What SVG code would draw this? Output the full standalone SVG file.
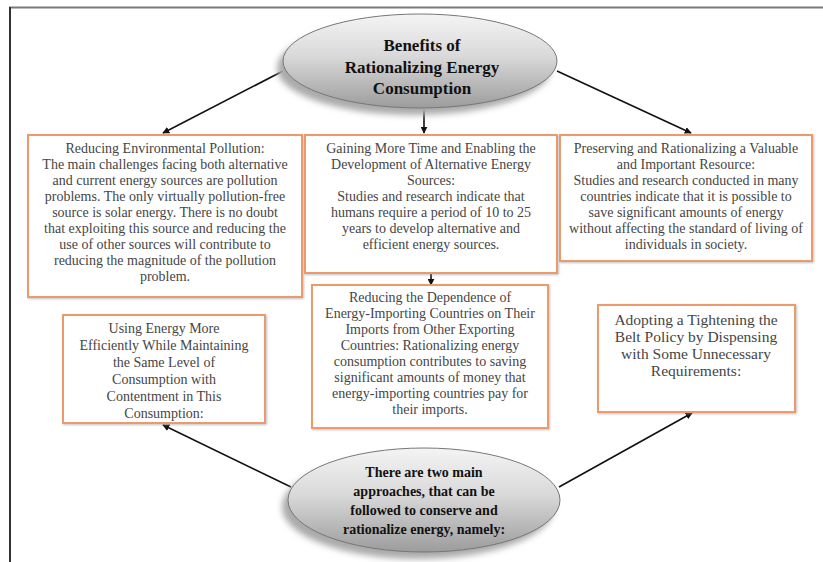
<svg xmlns="http://www.w3.org/2000/svg" width="823" height="562" viewBox="0 0 823 562">
<style>
.box{fill:#fff;stroke:#ec9a6c;stroke-width:2}
.t{font-family:"Liberation Serif","Times New Roman",serif;font-size:14px;fill:#454545;text-anchor:middle}
.h{font-family:"Liberation Serif","Times New Roman",serif;font-weight:bold;fill:#111;text-anchor:middle}
.c{stroke:#111;stroke-width:1.6;fill:none;marker-end:url(#ah)}
</style>
<defs>
<linearGradient id="eg" x1="0" y1="0" x2="0" y2="1">
<stop offset="0" stop-color="#f4f4f4"/>
<stop offset="0.45" stop-color="#d9d9d9"/>
<stop offset="1" stop-color="#9c9c9c"/>
</linearGradient>
<filter id="blur" x="-20%" y="-20%" width="140%" height="140%"><feGaussianBlur stdDeviation="3"/></filter>
<filter id="bs" x="-5%" y="-5%" width="110%" height="110%"><feDropShadow dx="1" dy="1" stdDeviation="1" flood-color="#999" flood-opacity="0.6"/></filter>
<marker id="ah" viewBox="0 0 10 10" refX="9" refY="5" markerWidth="7" markerHeight="7" orient="auto" markerUnits="userSpaceOnUse"><path d="M0,0 L10,5 L0,10 z" fill="#111"/></marker>
</defs>
<rect width="823" height="562" fill="#fff"/>
<line x1="9" y1="7.5" x2="823" y2="7.5" stroke="#7a7a7a" stroke-width="2"/>
<line x1="10" y1="7" x2="10" y2="562" stroke="#333" stroke-width="2"/>

<g id="connectors">
<path class="c" d="M283,71 L163,133"/>
<path class="c" d="M557,71 L691,133"/>
<path class="c" d="M424,110 L424,133"/>
<path class="c" d="M431,273 L431,285"/>
<path class="c" d="M291,487 L163,425"/>
<path class="c" d="M559,487 L692,413"/>
</g>

<g id="n-top">
<ellipse cx="414" cy="68" rx="137" ry="47" fill="#aaa" filter="url(#blur)"/>
<ellipse cx="420" cy="61" rx="137" ry="47" fill="url(#eg)" stroke="#777" stroke-width="1"/>
<text class="h" font-size="17"><tspan x="422" y="51">Benefits of</tspan><tspan x="422" y="73">Rationalizing Energy</tspan><tspan x="422" y="94">Consumption</tspan></text>
</g>

<g id="n-pollution">
<rect class="box" x="28" y="135" width="274" height="162" filter="url(#bs)"/>
<text class="t"><tspan x="165" y="153">Reducing Environmental Pollution:</tspan><tspan x="165" y="169">The main challenges facing both alternative</tspan><tspan x="165" y="185">and current energy sources are pollution</tspan><tspan x="165" y="201">problems. The only virtually pollution-free</tspan><tspan x="165" y="217">source is solar energy. There is no doubt</tspan><tspan x="165" y="233">that exploiting this source and reducing the</tspan><tspan x="165" y="249">use of other sources will contribute to</tspan><tspan x="165" y="265">reducing the magnitude of the pollution</tspan><tspan x="165" y="281">problem.</tspan></text>
</g>

<g id="n-time">
<rect class="box" x="305" y="135" width="252" height="138" filter="url(#bs)"/>
<text class="t"><tspan x="431" y="153">Gaining More Time and Enabling the</tspan><tspan x="431" y="169">Development of Alternative Energy</tspan><tspan x="431" y="185">Sources:</tspan><tspan x="431" y="201">Studies and research indicate that</tspan><tspan x="431" y="217">humans require a period of 10 to 25</tspan><tspan x="431" y="233">years to develop alternative and</tspan><tspan x="431" y="249">efficient energy sources.</tspan></text>
</g>

<g id="n-resource">
<rect class="box" x="560" y="135" width="252" height="126" filter="url(#bs)"/>
<text class="t"><tspan x="686" y="153">Preserving and Rationalizing a Valuable</tspan><tspan x="686" y="169">and Important Resource:</tspan><tspan x="686" y="185">Studies and research conducted in many</tspan><tspan x="686" y="201">countries indicate that it is possible to</tspan><tspan x="686" y="217">save significant amounts of energy</tspan><tspan x="686" y="233">without affecting the standard of living of</tspan><tspan x="686" y="249">individuals in society.</tspan></text>
</g>

<g id="n-efficiency">
<rect class="box" x="63" y="315" width="202" height="108" filter="url(#bs)"/>
<text class="t"><tspan x="164" y="333">Using Energy More</tspan><tspan x="164" y="350">Efficiently While Maintaining</tspan><tspan x="164" y="367">the Same Level of</tspan><tspan x="164" y="384">Consumption with</tspan><tspan x="164" y="401">Contentment in This</tspan><tspan x="164" y="418">Consumption:</tspan></text>
</g>

<g id="n-dependence">
<rect class="box" x="312" y="285" width="236" height="143" filter="url(#bs)"/>
<text class="t"><tspan x="430" y="302">Reducing the Dependence of</tspan><tspan x="430" y="318">Energy-Importing Countries on Their</tspan><tspan x="430" y="334">Imports from Other Exporting</tspan><tspan x="430" y="350">Countries: Rationalizing energy</tspan><tspan x="430" y="366">consumption contributes to saving</tspan><tspan x="430" y="382">significant amounts of money that</tspan><tspan x="430" y="398">energy-importing countries pay for</tspan><tspan x="430" y="414">their imports.</tspan></text>
</g>

<g id="n-belt">
<rect class="box" x="598" y="305" width="197" height="107" filter="url(#bs)"/>
<text class="t" style="font-size:15.5px"><tspan x="696" y="325">Adopting a Tightening the</tspan><tspan x="696" y="342">Belt Policy by Dispensing</tspan><tspan x="696" y="359">with Some Unnecessary</tspan><tspan x="696" y="376">Requirements:</tspan></text>
</g>

<g id="n-approaches">
<ellipse cx="418" cy="507" rx="136" ry="52" fill="#aaa" filter="url(#blur)"/>
<ellipse cx="424" cy="500" rx="136" ry="52" fill="url(#eg)" stroke="#777" stroke-width="1"/>
<text class="h" font-size="14"><tspan x="424" y="477">There are two main</tspan><tspan x="424" y="496">approaches, that can be</tspan><tspan x="424" y="515">followed to conserve and</tspan><tspan x="424" y="534">rationalize energy, namely:</tspan></text>
</g>
</svg>
